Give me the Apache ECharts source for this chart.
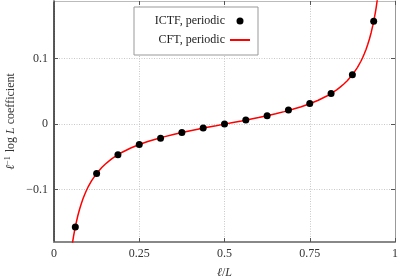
<!DOCTYPE html>
<html><head><meta charset="utf-8">
<script src="https://cdn.jsdelivr.net/npm/echarts@6/dist/echarts.min.js"></script>
<style>html,body{margin:0;padding:0;background:#fff}#c{width:398px;height:277px}</style>
</head><body><div id="c"></div>
<script>
// ICTF, periodic data points (x = l/L, y = coefficient)
const ictfX = [0.0625,0.125,0.1875,0.25,0.3125,0.375,0.4375,0.5,0.5625,0.625,0.6875,0.75,0.8125,0.875,0.9375];
const ictfY = [-0.157,-0.0755,-0.0466,-0.0313,-0.0214,-0.0127,-0.0061,0,0.0061,0.0127,0.0214,0.0313,0.0466,0.0755,0.157];
// CFT, periodic curve samples
const cftX = [0.05,0.055,0.0575,0.06,0.065,0.07,0.075,0.08,0.085,0.09,0.095,0.1,0.11,0.125,0.14,0.15,0.16,0.17,0.18,0.19,0.2,0.225,0.25,0.275,0.3,0.325,0.35,0.375,0.4,0.425,0.45,0.475,0.5,
  0.525,0.55,0.575,0.6,0.625,0.65,0.675,0.7,0.725,0.75,0.775,0.8,0.81,0.82,0.83,0.84,0.85,0.86,0.875,0.89,0.9,0.905,0.91,0.915,0.92,0.925,0.93,0.935,0.94,0.9425,0.945,0.95];
const cftY = [-0.197,-0.1788,-0.1708,-0.1636,-0.1507,-0.1396,-0.1300,-0.1215,-0.1140,-0.1074,-0.1014,-0.0960,-0.0867,-0.0753,-0.0663,-0.0612,-0.0568,-0.0527,-0.0492,-0.0460,-0.0429,-0.0365,-0.0312,-0.0266,-0.0227,-0.0191,-0.0159,-0.0129,-0.0101,-0.0075,-0.0049,-0.0025,0,
  0.0025,0.0049,0.0075,0.0101,0.0129,0.0159,0.0191,0.0227,0.0266,0.0312,0.0365,0.0429,0.0460,0.0492,0.0527,0.0568,0.0612,0.0663,0.0753,0.0867,0.0960,0.1014,0.1074,0.1140,0.1215,0.1300,0.1396,0.1507,0.1636,0.1708,0.1788,0.197];
const xTicks = [0,0.25,0.5,0.75,1];
const xTickLabels = ['0','0.25','0.5','0.75','1'];
const yTicks = [-0.1,0,0.1];
const yTickLabels = ['\u22120.1','0','0.1'];

const FONT = '"Liberation Serif", "DejaVu Serif", serif';
const chart = echarts.init(document.getElementById('c'));
const fmtX = v => { const i = xTicks.findIndex(t => Math.abs(t - v) < 1e-9); return i >= 0 ? xTickLabels[i] : ''; };
const fmtY = v => { const i = yTicks.findIndex(t => Math.abs(t - v) < 1e-9); return i >= 0 ? yTickLabels[i] : ''; };
chart.setOption({
  animation:false,
  backgroundColor:'#fff',
  grid: {left:54, right:3, top:1, bottom:35, outerBoundsMode:'none', containLabel:false},
  legend: {
    orient:'vertical', left:134, top:7, align:'right',
    padding:[7,7,8,7], itemGap:5, itemWidth:20, itemHeight:7,
    backgroundColor:'#fff', borderColor:'#999', borderWidth:1, borderRadius:0,
    textStyle:{fontFamily:FONT, fontSize:12, color:'#222', width:84, lineHeight:14, align:'right'},
    data:[{name:'ICTF, periodic', icon:'circle', itemStyle:{color:'#000', opacity:1}}, {name:'CFT, periodic', itemStyle:{opacity:0}}]
  },
  xAxis: [{
    type:'value', min:0, max:1, interval:0.25,
    name:'{i|\u2113}/{i|L}', nameLocation:'middle', nameGap:25, nameMoveOverlap:false,
    nameTextStyle:{fontFamily:FONT, fontSize:12, color:'#333', rich:{i:{fontFamily:FONT, fontStyle:'italic', fontSize:12, color:'#333'}}},
    axisLine:{show:true, onZero:false, lineStyle:{color:'#888', width:2}},
    axisTick:{show:true, inside:true, length:4, lineStyle:{color:'#555'}},
    axisLabel:{formatter:fmtX, margin:6, fontFamily:FONT, fontSize:12, color:'#333'},
    splitLine:{show:true, lineStyle:{color:'#c8c8c8', type:[1,1.5], width:1}}
  },{
    type:'value', min:0, max:1, interval:0.25, position:'top',
    axisLine:{show:true, onZero:false, lineStyle:{color:'#bbb', width:1}},
    axisTick:{show:true, inside:true, length:4, lineStyle:{color:'#555'}},
    axisLabel:{show:false}, splitLine:{show:false}
  }],
  yAxis: [{
    type:'value', min:-0.18, max:0.188,
    name:'{i|\u2113}{s|\u22121} log {i|L} coefficient', nameLocation:'middle', nameGap:36, nameMoveOverlap:false,
    nameTextStyle:{fontFamily:FONT, fontSize:12, color:'#333',
      rich:{i:{fontFamily:FONT, fontStyle:'italic', fontSize:12, color:'#333'},
            s:{fontFamily:FONT, fontSize:8, color:'#333', padding:[0,1,6,0]}}},
    axisLine:{show:true, onZero:false, lineStyle:{color:'#222', width:1.5}},
    axisTick:{show:true, inside:true, length:4, customValues:yTicks, lineStyle:{color:'#555'}},
    axisLabel:{formatter:fmtY, customValues:yTicks, margin:6, fontFamily:FONT, fontSize:12, color:'#333'},
    splitLine:{show:true, lineStyle:{color:'#c8c8c8', type:[1,1.5], width:1}}
  },{
    type:'value', min:-0.18, max:0.188, position:'right',
    axisLine:{show:true, onZero:false, lineStyle:{color:'#999', width:1}},
    axisTick:{show:true, inside:true, length:4, customValues:yTicks, lineStyle:{color:'#555'}},
    axisLabel:{show:false, customValues:yTicks}, splitLine:{show:false}
  }],
  series: [{
    name:'CFT, periodic', type:'line', showSymbol:false, symbol:'none', clip:true,
    lineStyle:{color:'#ff0000', width:1.5}, itemStyle:{color:'#ff0000'},
    data: cftX.map((x,i)=>[x, cftY[i]]), z:2
  },{
    name:'ICTF, periodic', type:'scatter', symbol:'circle', symbolSize:7,
    itemStyle:{color:'#000', opacity:1}, data: ictfX.map((x,i)=>[x, ictfY[i]]), z:3
  }]
});
</script></body></html>
